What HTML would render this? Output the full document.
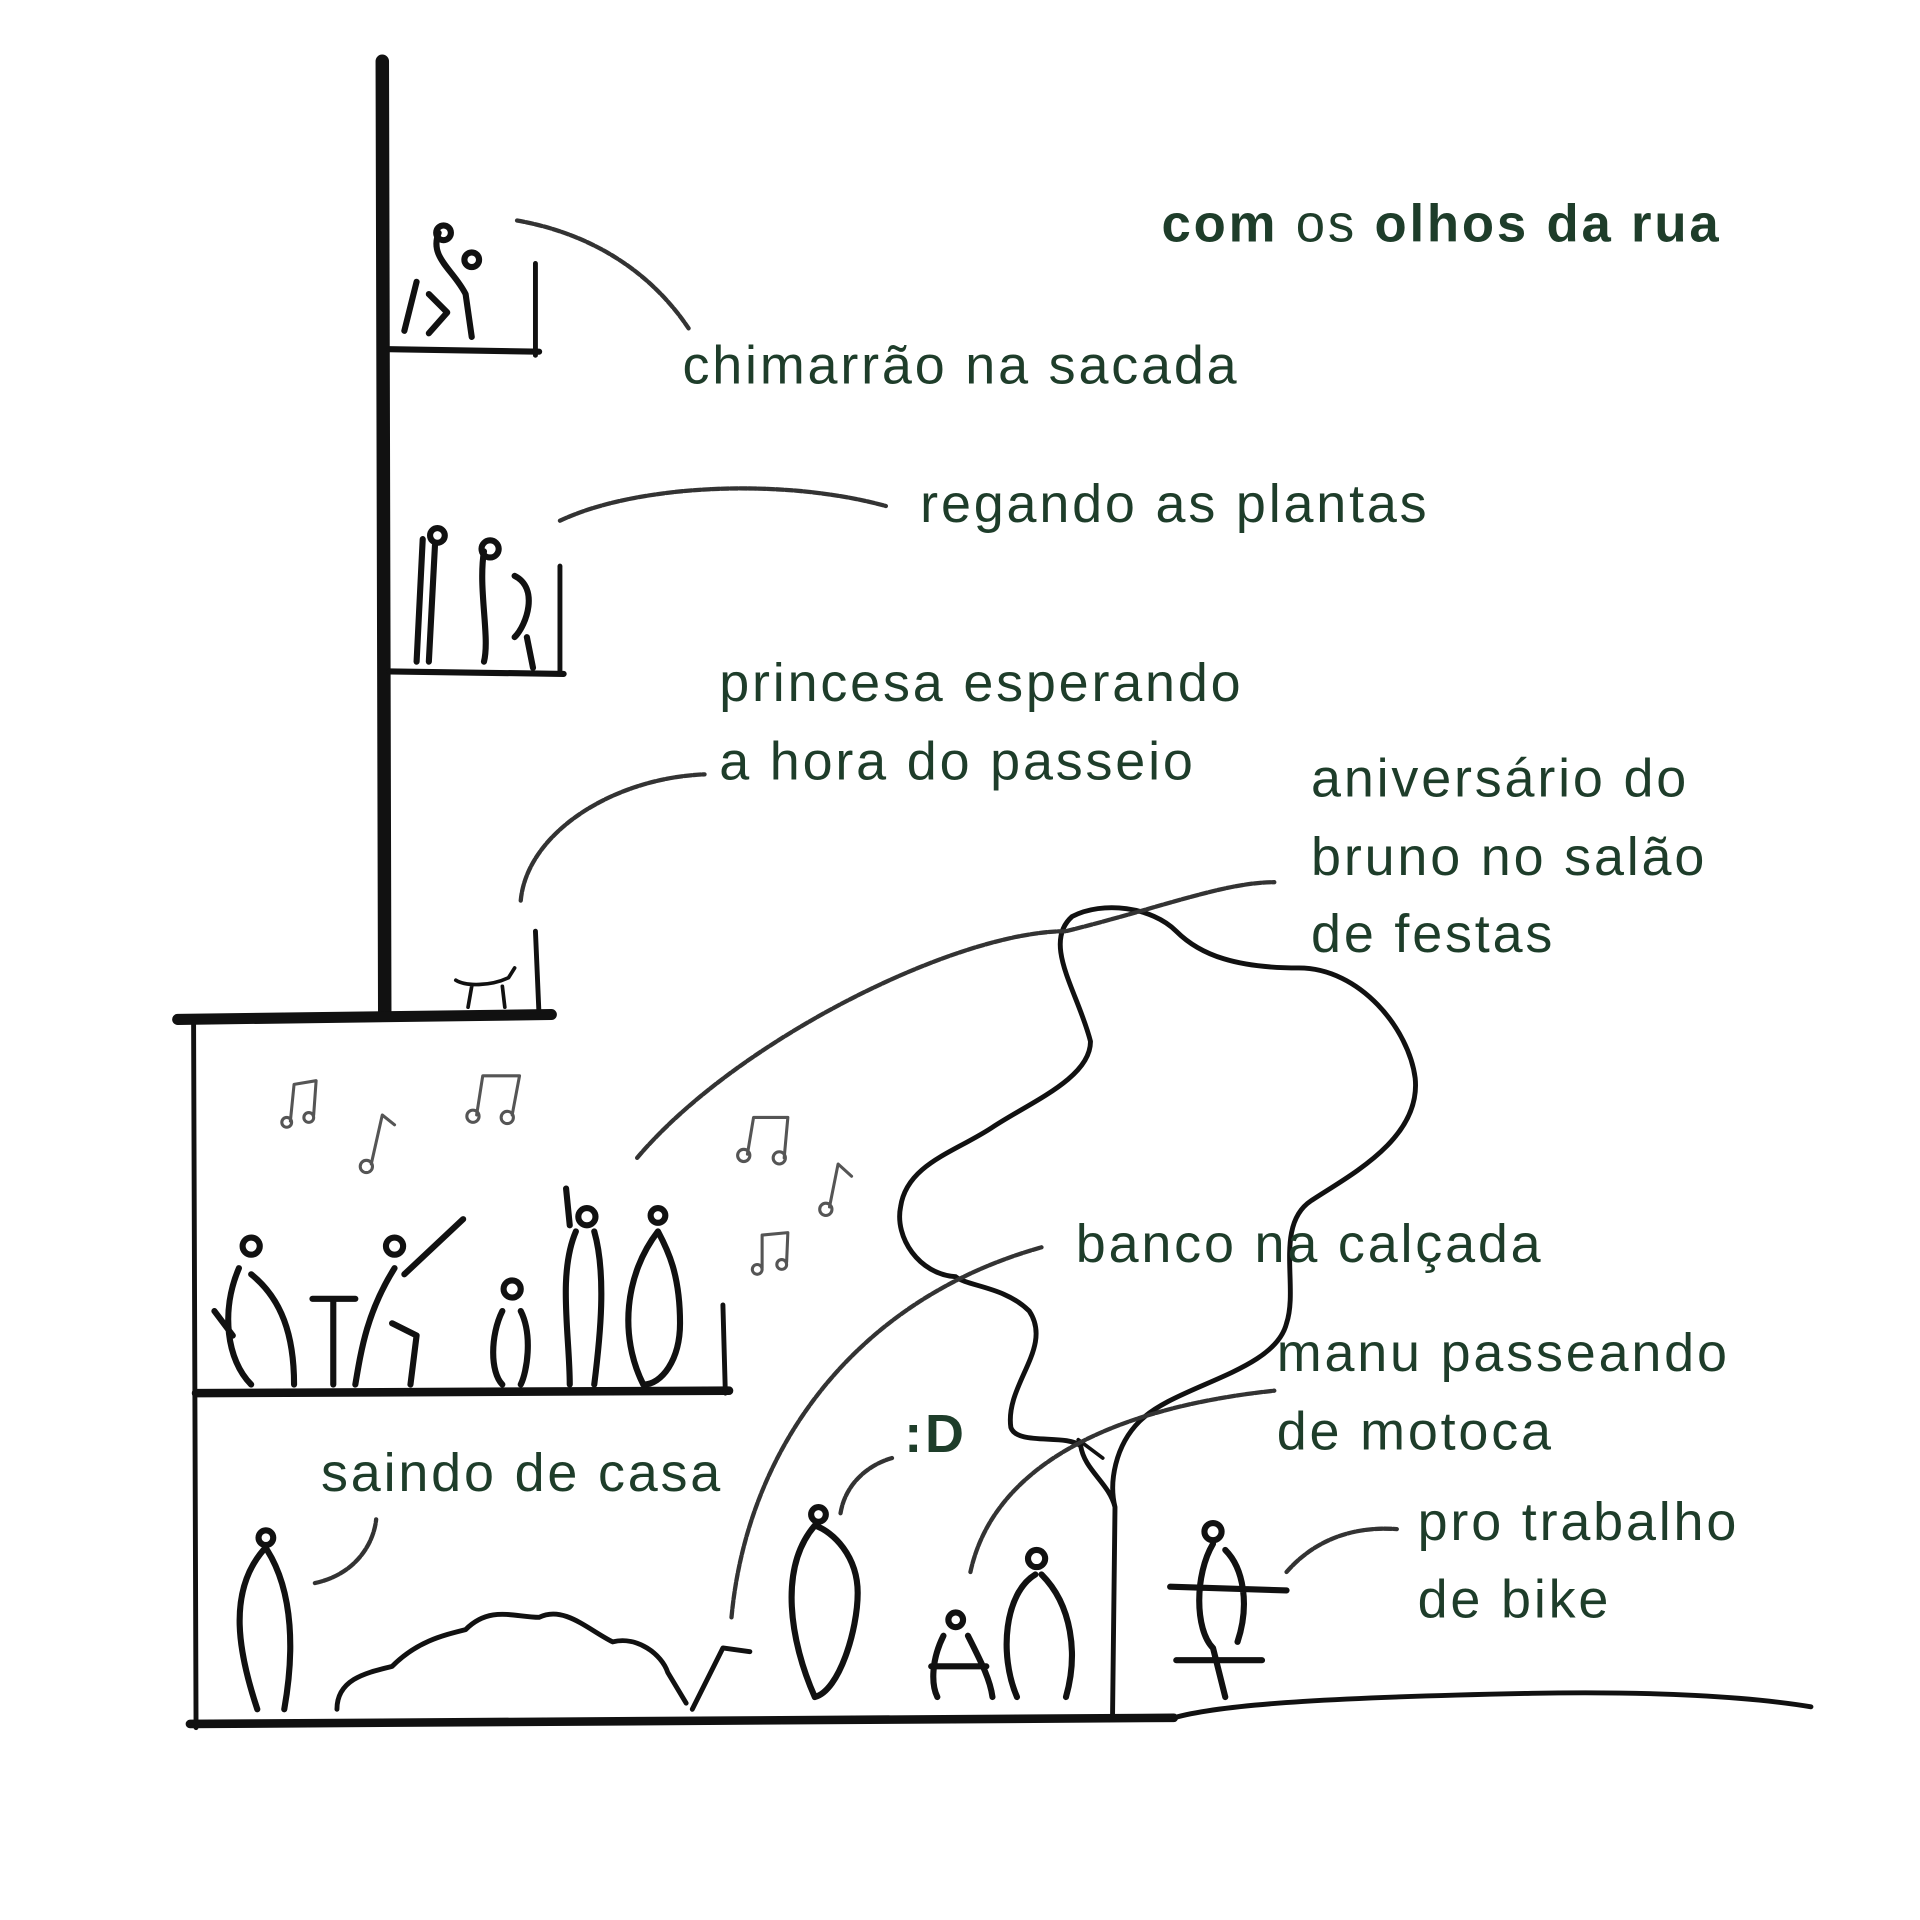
<!DOCTYPE html>
<html><head><meta charset="utf-8"><style>
html,body{margin:0;padding:0;background:#fff;width:1920px;height:1920px;overflow:hidden}
svg{display:block}
text{font-family:"Liberation Sans",sans-serif;fill:#1e3d2a;font-size:44px;letter-spacing:2.3px}
.b{font-weight:bold}
</style></head><body>
<svg width="1920" height="1920" viewBox="0 0 1567 1567" xmlns="http://www.w3.org/2000/svg">
<g stroke="#111" fill="none" stroke-linecap="round" stroke-linejoin="round">
<path d="M312 50 L314 825" stroke-width="11"/>
<path d="M318 285 L440 287" stroke-width="5"/><path d="M437 215 L437 290" stroke-width="4"/>
<path d="M318 548 L460 550" stroke-width="5"/><path d="M457 462 L457 550" stroke-width="4"/>
<path d="M437 760 L440 830" stroke-width="4"/>
<path d="M145 832 L450 828" stroke-width="9"/>
<path d="M158 835 L160 1410" stroke-width="4"/>
<path d="M160 1137 L595 1135" stroke-width="7"/><path d="M590 1065 L592 1137" stroke-width="4"/>
<path d="M155 1407 L958 1402" stroke-width="7"/>
<path d="M958 1402 C1000 1390 1100 1385 1250 1382 C1350 1380 1430 1385 1478 1393" stroke-width="4"/>
<path d="M908 1400 L910 1230 C905 1210 885 1200 882 1180 C870 1170 830 1180 825 1165 C820 1130 860 1100 840 1070 C820 1050 790 1050 780 1042 C750 1040 730 1010 735 985 C740 950 780 940 810 920 C840 900 890 880 890 850 C880 810 850 770 875 748 C900 735 940 740 960 760 C980 780 1010 790 1060 790 C1110 790 1150 840 1155 880 C1160 930 1100 960 1070 980 C1040 1000 1060 1050 1050 1080 C1040 1120 960 1130 930 1160 C910 1180 905 1210 910 1230" stroke-width="4"/>
<path d="M900 1190 L880 1175" stroke-width="3"/>
<g stroke-width="3.5" stroke="#333" stroke-dasharray="6 1.5">
<path d="M422 180 C480 190 530 220 562 268"/>
<path d="M457 425 C520 395 640 390 723 413"/>
<path d="M425 735 C430 680 500 635 575 632"/>
<path d="M520 945 C600 850 780 760 870 760 C950 740 1000 720 1040 720"/>
<path d="M597 1320 C610 1180 700 1060 850 1018"/>
<path d="M792 1283 C810 1200 900 1150 1040 1135"/>
<path d="M686 1235 C690 1210 710 1195 728 1190"/>
<path d="M257 1292 C290 1285 305 1260 307 1240"/>
<path d="M1050 1283 C1070 1260 1100 1245 1140 1248"/>
</g>
<g stroke-width="5">
<path d="M358 190 C350 210 370 220 380 240 L385 275 M340 230 L330 270 M350 240 L365 255 L350 272"/>
<circle cx="362" cy="190" r="6"/><circle cx="385" cy="212" r="6"/>
<path d="M345 440 L340 540 M355 445 L350 540 M395 450 C390 480 400 520 395 540 M420 470 C440 480 430 510 420 520 M430 520 L435 545"/>
<circle cx="357" cy="437" r="6"/><circle cx="400" cy="448" r="7"/>
<path d="M372 800 C380 805 400 805 415 798 L420 790 M385 805 L382 822 M410 805 L412 822" stroke-width="3"/>
<path d="M195 1035 C180 1070 185 1110 205 1130 M205 1040 C230 1060 240 1090 240 1130 M175 1070 L190 1090"/>
<circle cx="205" cy="1017" r="7"/>
<path d="M255 1060 L290 1060 M272 1060 L272 1130"/>
<path d="M322 1035 C300 1070 295 1100 290 1130 M330 1040 L378 995 M320 1080 L340 1090 L335 1130"/>
<circle cx="322" cy="1017" r="7"/>
<path d="M410 1070 C400 1090 400 1120 410 1130 M425 1070 C435 1090 430 1120 425 1130"/>
<circle cx="418" cy="1052" r="7"/>
<path d="M470 1005 C455 1040 465 1090 465 1130 M485 1005 C495 1040 490 1090 485 1130 M465 1000 L462 970"/>
<circle cx="479" cy="993" r="7"/>
<path d="M537 1005 C510 1040 505 1090 525 1130 C540 1130 555 1110 555 1080 C555 1040 545 1020 537 1005"/>
<circle cx="537" cy="992" r="6"/>
<path d="M215 1265 C185 1300 195 1350 210 1395 M218 1265 C240 1300 240 1350 232 1395"/>
<circle cx="217" cy="1255" r="6"/>
<path d="M665 1245 C635 1280 645 1340 665 1385 C685 1380 700 1330 700 1300 C700 1270 680 1250 665 1245"/>
<circle cx="668" cy="1236" r="6"/>
<path d="M770 1335 C760 1355 760 1375 765 1385 M790 1335 C800 1355 808 1370 810 1385 M760 1360 L805 1360"/>
<circle cx="780" cy="1322" r="6"/>
<path d="M845 1285 C820 1300 815 1350 830 1385 M850 1285 C875 1310 880 1350 870 1385"/>
<circle cx="846" cy="1272" r="7"/>
<path d="M990 1260 C975 1285 975 1330 990 1345 L1000 1385 M1000 1265 C1015 1280 1020 1310 1010 1340 M955 1295 L1050 1298 M960 1355 L1030 1355"/>
<circle cx="990" cy="1250" r="7"/>
<path d="M275 1395 C275 1370 300 1365 320 1360 C340 1340 360 1335 380 1330 C400 1310 420 1320 440 1320 C460 1310 480 1330 500 1340 C520 1335 540 1350 545 1365 L560 1390" stroke-width="4"/>
<path d="M565 1395 L590 1345 L612 1348" stroke-width="4"/>
</g>
<g stroke="#555" stroke-width="2.5">
<path d="M237 915 L240 885 L258 882 L256 910"/><circle cx="234" cy="916" r="4"/><circle cx="252" cy="912" r="4"/>
<path d="M303 950 L312 910 L322 918"/><circle cx="299" cy="952" r="5"/>
<path d="M389 910 L394 878 L424 878 L418 910"/><circle cx="386" cy="911" r="5"/><circle cx="414" cy="912" r="5"/>
<path d="M610 942 L615 912 L643 912 L640 945"/><circle cx="607" cy="943" r="5"/><circle cx="636" cy="945" r="5"/>
<path d="M677 985 L684 950 L695 960"/><circle cx="674" cy="987" r="5"/>
<path d="M622 1035 L622 1008 L643 1006 L642 1030"/><circle cx="618" cy="1036" r="4"/><circle cx="638" cy="1032" r="4"/>
</g>
</g>
<text x="948" y="197" style="font-size:43px"><tspan class="b">com</tspan> os <tspan class="b">olhos da rua</tspan></text>
<text x="557" y="313">chimarrão na sacada</text>
<text x="751" y="426">regando as plantas</text>
<text x="587" y="572">princesa esperando</text>
<text x="587" y="636">a hora do passeio</text>
<text x="1070" y="650">aniversário do</text>
<text x="1070" y="714">bruno no salão</text>
<text x="1070" y="777">de festas</text>
<text x="878" y="1030">banco na calçada</text>
<text x="1042" y="1119">manu passeando</text>
<text x="1042" y="1183">de motoca</text>
<text x="738" y="1185" class="b">:D</text>
<text x="262" y="1217">saindo de casa</text>
<text x="1157" y="1257">pro trabalho</text>
<text x="1157" y="1320">de bike</text>
</svg>
</body></html>
